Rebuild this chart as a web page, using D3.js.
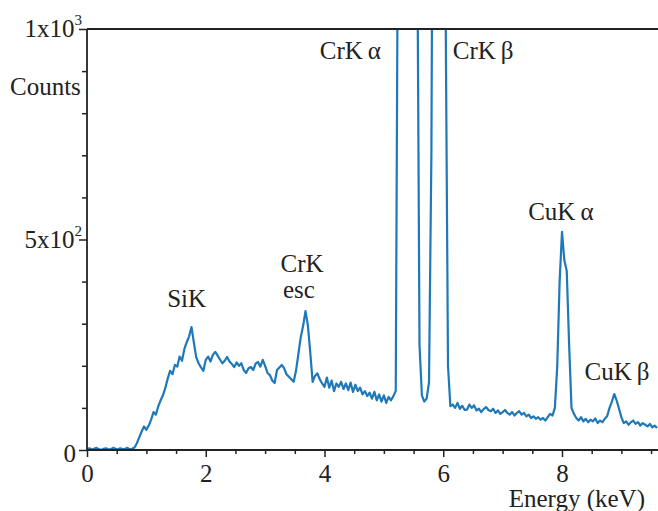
<!DOCTYPE html>
<html>
<head>
<meta charset="utf-8">
<script src="https://cdn.jsdelivr.net/npm/d3@7"></script>
<style>
  body { margin: 0; background: #fff; }
  svg text { font-family: "Liberation Serif", "Times New Roman", serif; fill: #222; }
</style>
</head>
<body>
<div id="chart"></div>
<script>
// spectrum, one value every 0.04 keV starting at 0 keV
var channelWidth = 0.04;
var counts = [
  2, 4, 1, 3, 5, 2, 0, 3, 4, 1,
  2, 5, 3, 1, 4, 2, 3, 5, 2, 3,
  6, 16, 30, 44, 56, 48, 58, 72, 90, 84,
  104, 118, 130, 148, 170, 188, 180, 202, 198, 222,
  212, 240, 256, 270, 292, 255, 220, 206, 196, 188,
  214, 222, 210, 226, 233, 224, 215, 206, 212, 221,
  210, 204, 197, 208, 200, 206, 190, 183, 194, 197,
  190, 205, 209, 198, 214, 200, 183, 178, 165, 159,
  190, 196, 202, 194, 180, 174, 168, 162, 188, 228,
  268, 295, 330, 296, 232, 162, 176, 182, 168, 158,
  150, 172, 148, 165, 140, 158, 150, 162, 145, 158,
  142, 160, 138, 155, 140, 148, 132, 140, 128, 136,
  122, 138, 118, 132, 115, 130, 112, 126, 118, 128,
  140, 1400, 4200, 9000, 14000, 16000, 14000, 9000, 4200, 1300,
  250, 130, 115, 122, 160, 700, 2000, 3400, 3900, 3400,
  2100, 1050, 200, 104, 108, 100, 112, 98, 105, 95,
  96, 108, 100, 106, 94, 98, 90, 97, 102, 95,
  92, 98, 88, 94, 86, 90, 95, 88, 84, 90,
  82, 88, 92, 84, 88, 80, 84, 76, 80, 74,
  78, 72, 76, 70, 78, 86, 82, 100, 200, 400,
  518, 450, 425, 250, 100, 86, 76, 70, 78, 68,
  74, 66, 72, 68, 75, 64, 70, 66, 74, 80,
  100, 115, 133, 118, 98, 78, 64, 68, 60, 66,
  70, 62, 66, 58, 64, 60, 56, 62, 54, 58, 52
];

var xMajor = [0, 2, 4, 6, 8];
var xMinor = [0.5, 1, 1.5, 2.5, 3, 3.5, 4.5, 5, 5.5, 6.5, 7, 7.5, 8.5, 9, 9.5];
var yMinor = [100, 200, 300, 400, 600, 700, 800, 900];
var yMajor = [0, 500, 1000];

// peak labels: text, greek letter, keV and counts at the text baseline
var peakLabels = [
  { name: "SiK", greek: "", e: 1.35, c: 340 },
  { name: "CrK", greek: "", e: 3.26, c: 423 },
  { name: "esc", greek: "", e: 3.3, c: 362 },
  { name: "CrK", greek: "α", e: 3.92, c: 928 },
  { name: "CrK", greek: "β", e: 6.16, c: 928 },
  { name: "CuK", greek: "α", e: 7.43, c: 546 },
  { name: "CuK", greek: "β", e: 8.38, c: 166 }
];

var W = 658, H = 511;
var plotLeft = 87, plotRight = 657, plotTop = 29, plotBottom = 450;
var fs = 25;

var svg = d3.select("#chart").append("svg")
    .attr("width", W)
    .attr("height", H);

var x = d3.scaleLinear().domain([0, 9.6]).range([plotLeft, plotRight]);
var y = d3.scaleLinear().domain([0, 1000]).range([plotBottom, plotTop]);

svg.append("clipPath").attr("id", "plotclip")
  .append("rect")
    .attr("x", plotLeft).attr("y", plotTop)
    .attr("width", W - plotLeft).attr("height", plotBottom - plotTop + 2);

//spectrum line
var line = d3.line()
    .x(function (d, i) { return x(i * channelWidth); })
    .y(function (d) { return y(d); });

svg.append("path")
    .datum(counts)
    .attr("clip-path", "url(#plotclip)")
    .attr("d", line)
    .attr("fill", "none")
    .attr("stroke", "#1f78b8")
    .attr("stroke-width", 2.2)
    .attr("stroke-linejoin", "round");

//x axis: minor then major ticks
svg.append("g")
    .attr("transform", "translate(0," + plotBottom + ")")
    .call(d3.axisBottom(x).tickValues(xMinor).tickSize(4).tickFormat(""))
    .call(function (g) { g.select(".domain").remove(); });

var xAxis = svg.append("g")
    .attr("transform", "translate(0," + plotBottom + ")")
    .call(d3.axisBottom(x).tickValues(xMajor).tickSize(7).tickPadding(7).tickFormat(d3.format("d")));
xAxis.select(".domain").remove();
xAxis.selectAll("text")
    .attr("font-size", fs)
    .attr("font-family", "Liberation Serif")
    .attr("fill", "#222");

//y axis ticks
svg.append("g")
    .attr("transform", "translate(" + plotLeft + ",0)")
    .call(d3.axisLeft(y).tickValues(yMinor).tickSize(5).tickFormat(""))
    .call(function (g) { g.select(".domain").remove(); });
svg.append("g")
    .attr("transform", "translate(" + plotLeft + ",0)")
    .call(d3.axisLeft(y).tickValues(yMajor).tickSize(8).tickFormat(""))
    .call(function (g) { g.select(".domain").remove(); });

svg.selectAll(".tick line").attr("stroke", "#222").attr("stroke-width", 1.5);

//frame lines
svg.append("line")
    .attr("x1", plotLeft).attr("y1", plotBottom)
    .attr("x2", W).attr("y2", plotBottom)
    .attr("stroke", "#222").attr("stroke-width", 1.8);
svg.append("line")
    .attr("x1", plotLeft).attr("y1", plotTop)
    .attr("x2", W).attr("y2", plotTop)
    .attr("stroke", "#222").attr("stroke-width", 1.8);
svg.append("line")
    .attr("x1", plotLeft).attr("y1", plotTop)
    .attr("x2", plotLeft).attr("y2", plotBottom)
    .attr("stroke", "#222").attr("stroke-width", 1.8);

//y labels with powers
function powLabel(base, sup, yv) {
  var t = svg.append("text")
      .attr("x", 82)
      .attr("y", y(yv) + 8)
      .attr("text-anchor", "end")
      .attr("font-size", fs);
  t.append("tspan").text(base);
  if (sup) {
    t.append("tspan")
      .attr("dy", -12)
      .attr("font-size", 15)
      .text(sup);
  }
}
powLabel("1x10", "3", 1000);
powLabel("5x10", "2", 500);
svg.append("text")
    .attr("x", 76).attr("y", y(0) + 12)
    .attr("text-anchor", "end")
    .attr("font-size", fs)
    .text("0");

svg.append("text")
    .attr("x", 10).attr("y", 95)
    .attr("font-size", fs)
    .text("Counts");

svg.append("text")
    .attr("x", 645).attr("y", 507)
    .attr("text-anchor", "end")
    .attr("font-size", fs)
    .text("Energy (keV)");

//peak labels
peakLabels.forEach(function (p) {
  var t = svg.append("text")
      .attr("x", x(p.e))
      .attr("y", y(p.c))
      .attr("font-size", fs);
  t.append("tspan").text(p.name);
  if (p.greek) {
    t.append("tspan").attr("dx", 5).text(p.greek);
  }
});
</script>
</body>
</html>
